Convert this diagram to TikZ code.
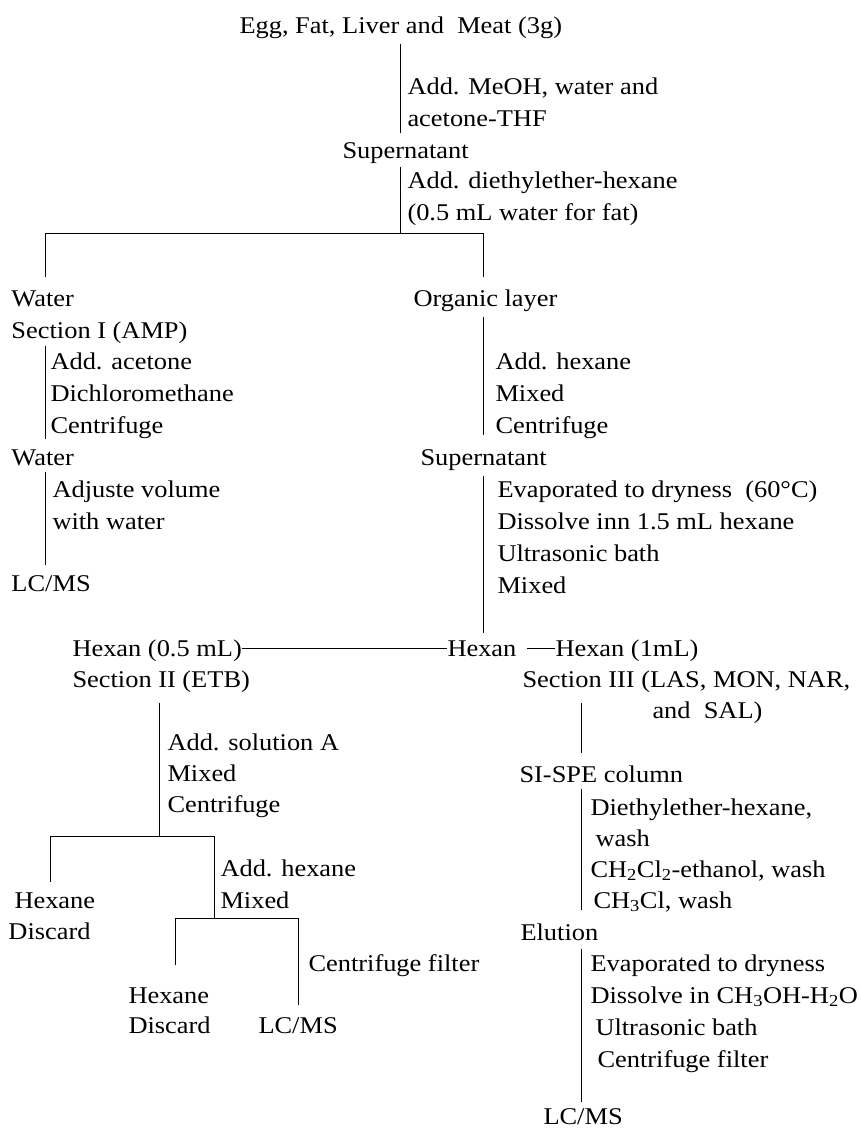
\documentclass[tikz,border=0pt]{standalone}
\usepackage{fontspec}
\setmainfont{Liberation Serif}[FakeStretch=1.1]
\usepackage{tikz}
\usetikzlibrary{calc, positioning}

\begin{document}
\begin{tikzpicture}[x=1pt, y=-1pt, line width=1pt,
    font=\fontsize{24}{30}\selectfont,
    txt/.style={anchor=base west, inner sep=0pt, text height=16pt, text depth=6pt},
    link/.style={shorten <=4pt, shorten >=10pt},
    fork/.style={shorten <=13pt, shorten >=13pt}]
  \useasboundingbox (0,0) rectangle (861,1130);
  % junctions of the tree
  \coordinate (c1) at (400,233);
  \coordinate (c1l) at (45,233);
  \coordinate (c1r) at (483,233);
  \coordinate (c3) at (159,836);
  \coordinate (c3l) at (50,836);
  \coordinate (c3r) at (214,836);
  \coordinate (c4) at (214,918);
  \coordinate (c4l) at (175,918);
  \coordinate (c4r) at (298,918);
  \coordinate (c5) at (581,700);

  % top part
  \node[txt] (egg) at (239,33) {Egg, Fat, Liver and~ Meat (3g)};
  \foreach \txt [count=\i] in {{Add. MeOH, water and}, acetone-THF}
    \node[txt] (meoh\i) at (407,{62+32*\i}) {\txt};
  \node[txt] (sup1) at (342,158) {Supernatant};
  \foreach \txt [count=\i] in {Add. diethylether-hexane, (0.5 mL water for fat)}
    \node[txt] (ether\i) at (407,{156+32*\i}) {\txt};
  \draw[link, shorten >=9pt] (egg.south -| c1) -- (sup1.north -| c1);
  \draw[shorten <=2pt] (sup1.south -| c1) -- (c1);

  % section I
  \node[txt] (water1) at (11,306) {Water};
  \node[txt] (sec1) at (11,338) {Section I (AMP)};
  \foreach \txt [count=\i] in {Add. acetone, Dichloromethane, Centrifuge}
    \node[txt] (acet\i) at (50,{337+32*\i}) {\txt};
  \node[txt] (water2) at (11,465) {Water};
  \foreach \txt [count=\i] in {Adjuste volume, with water}
    \node[txt] (adj\i) at (52,{465+32*\i}) {\txt};
  \node[txt] (lcms1) at (11,591) {LC/MS};
  \draw[link, shorten <=1pt] (sec1.south -| c1l) -- (water2.north -| c1l);
  \draw[link, shorten <=0pt] (water2.south -| c1l) -- (lcms1.north -| c1l);

  % organic layer
  \node[txt] (organic) at (413,306) {Organic layer};
  \foreach \txt [count=\i] in {Add. hexane, Mixed, Centrifuge}
    \node[txt] (hexadd\i) at (495,{337+32*\i}) {\txt};
  \node[txt] (sup2) at (420,465) {Supernatant};
  \foreach \txt [count=\i] in {Evaporated to dryness~ (60°C), Dissolve inn 1.5 mL hexane, Ultrasonic bath, Mixed}
    \node[txt] (evap\i) at (497,{465+32*\i}) {\txt};
  \draw[fork] (water1.north -| c1l) -- (c1l) -- (c1r) -- (organic.north -| c1r);
  \draw[link, shorten >=14pt] (organic.south -| c1r) -- (sup2.north -| c1r);

  % hexane split
  \node[txt] (hexL) at (72,656) {Hexan (0.5 mL)};
  \node[txt] (hexM) at (447,656) {Hexan};
  \node[txt] (hexR) at (555,656) {Hexan (1mL)};
  \draw[link, shorten >=7pt] (sup2.south -| c1r) -- (hexM.north -| c1r);
  \draw ([yshift=3pt]hexL.east) -- ([yshift=3pt]hexL.east -| hexM.west);
  \draw[shorten <=10pt] ([yshift=3pt]hexM.east) -- ([yshift=3pt]hexM.east -| hexR.west);

  % section II
  \node[txt] (sec2) at (72,687) {Section II (ETB)};
  \foreach \txt [count=\i] in {Add. solution A, Mixed, Centrifuge}
    \node[txt] (solA\i) at (167,{719+31*\i}) {\txt};
  \node[txt] (hexane1) at (14,908) {Hexane};
  \node[txt] (discard1) at (8,939) {Discard};
  \foreach \txt [count=\i] in {Add. hexane, Mixed}
    \node[txt] (hexadd2\i) at (220,{844+32*\i}) {\txt};
  \node[txt] (cfilt1) at (308,971) {Centrifuge filter};
  \node[txt] (hexane2) at (128,1003) {Hexane};
  \node[txt] (discard2) at (128,1033) {Discard};
  \node[txt] (lcms2) at (258,1033) {LC/MS};
  \draw[shorten <=9pt] (sec2.south -| c3) -- (c3);
  \draw[shorten <=10pt] (hexane1.north -| c3l) -- (c3l) -- (c3r) -- (c4);
  \draw[shorten <=22pt, shorten >=12pt] (hexane2.north -| c4l) -- (c4l) -- (c4r) -- (lcms2.north -| c4r);

  % section III
  \node[txt] (sec3) at (522,687) {Section III (LAS, MON, NAR,};
  \node[txt] (sec3b) at (652,718) {and\ \ SAL)};
  \node[txt] (spe) at (519,782) {SI-SPE column};
  \foreach \dx/\txt [count=\i] in {0/{Diethylether-hexane,}, 5/wash,
      0/{CH\textsubscript{2}Cl\textsubscript{2}-ethanol, wash}, 3/{CH\textsubscript{3}Cl, wash}}
    \node[txt] (wash\i) at ({590+\dx},{784+31*\i}) {\txt};
  \node[txt] (elution) at (520,940) {Elution};
  \foreach \dx/\txt [count=\i] in {0/Evaporated to dryness, 0/Dissolve in CH\textsubscript{3}OH-H\textsubscript{2}O,
      5/Ultrasonic bath, 7/Centrifuge filter}
    \node[txt] (elu\i) at ({590+\dx},{939+32*\i}) {\txt};
  \node[txt] (lcms3) at (543,1124) {LC/MS};
  \draw[link, shorten <=9pt, shorten >=13pt] (sec3.south -| c5) -- (spe.north -| c5);
  \draw[link, shorten <=0pt, shorten >=14pt] (spe.south -| c5) -- (elution.north -| c5);
  \draw[link, shorten <=2pt, shorten >=6pt] (elution.south -| c5) -- (lcms3.north -| c5);
\end{tikzpicture}
\end{document}
